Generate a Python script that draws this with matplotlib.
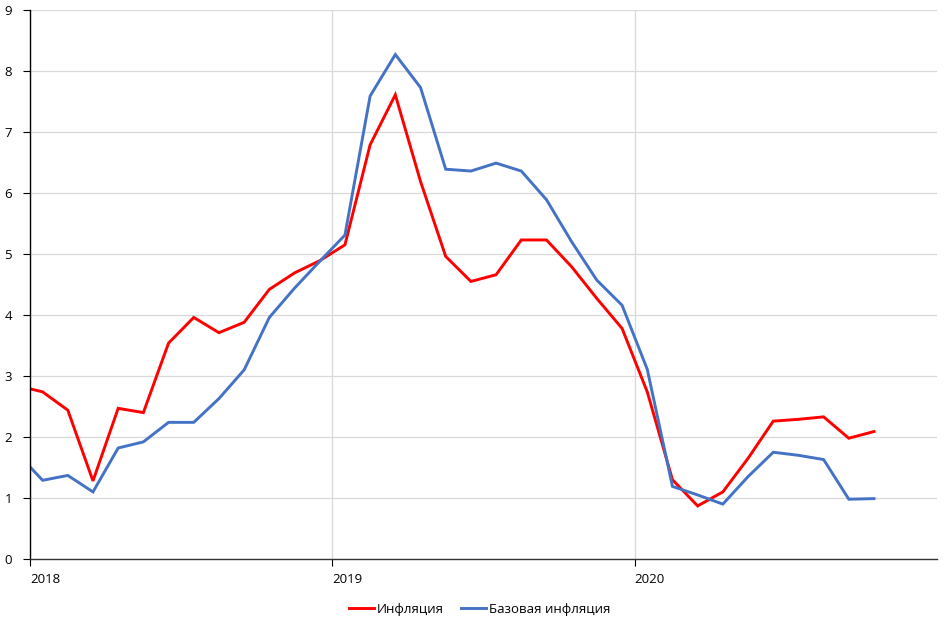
import matplotlib
matplotlib.use("Agg")
import matplotlib.pyplot as plt
import numpy as np

# Monthly data, Dec 2017 .. Oct 2020
months = ["2017-12"] + [f"{y}-{m:02d}" for y in (2018, 2019) for m in range(1, 13)] + [f"2020-{m:02d}" for m in range(1, 11)]
inflation = [2.84, 2.74, 2.44, 1.28, 2.47, 2.40, 3.54, 3.96, 3.71, 3.88, 4.42, 4.69, 4.89,
             5.15, 6.79, 7.61, 6.19, 4.96, 4.55, 4.66, 5.23, 5.23, 4.79, 4.27, 3.78,
             2.74, 1.30, 0.87, 1.10, 1.65, 2.26, 2.29, 2.33, 1.98, 2.09]
core_inflation = [1.73, 1.29, 1.37, 1.10, 1.82, 1.92, 2.24, 2.24, 2.63, 3.10, 3.96, 4.44, 4.88,
                  5.31, 7.59, 8.27, 7.73, 6.39, 6.36, 6.49, 6.36, 5.89, 5.20, 4.57, 4.16,
                  3.11, 1.19, 1.05, 0.90, 1.35, 1.75, 1.70, 1.63, 0.98, 0.99]
year_ticks = [2018, 2019, 2020]
y_ticks = list(range(0, 10))
series_names = ["Инфляция", "Базовая инфляция"]

x = np.array([int(s[:4]) + (int(s[5:]) - 1 + 0.5) / 12 for s in months])

plt.rcParams['font.family'] = ['Open Sans', 'DejaVu Sans']

fig = plt.figure(figsize=(9.5, 6.2), dpi=100)
ax = fig.add_axes([30/950, 61/620, (937-30)/950, (559-10)/620])

ax.plot(x, inflation, color="#ff0000", lw=2.1, label=series_names[0], solid_joinstyle='miter')
ax.plot(x, core_inflation, color="#4472c4", lw=2.1, label=series_names[1], solid_joinstyle='miter')

ax.set_xlim(2018, 2021)
ax.set_ylim(0, 9)
ax.set_yticks(y_ticks)
ax.set_xticks(year_ticks)
ax.set_xticklabels([str(y) for y in year_ticks], ha='left')
ax.grid(True, color="#d9d9d9", lw=0.9)
ax.set_axisbelow(True)
for s in ("top", "right"):
    ax.spines[s].set_visible(False)
ax.spines["left"].set_color("black")
ax.spines["bottom"].set_color("#333333")
ax.spines["left"].set_linewidth(1.0)
ax.spines["bottom"].set_linewidth(1.0)
ax.tick_params(axis='y', length=5, pad=8, labelsize=9.5, colors='black')
ax.tick_params(axis='x', length=5, pad=5, labelsize=9.5)

fig.legend(loc='lower center', bbox_to_anchor=(0.505, -0.012), ncol=2, frameon=False,
           fontsize=9.5, handlelength=1.9, handletextpad=0.2, columnspacing=1.3)

fig.savefig("out.png", dpi=100)
